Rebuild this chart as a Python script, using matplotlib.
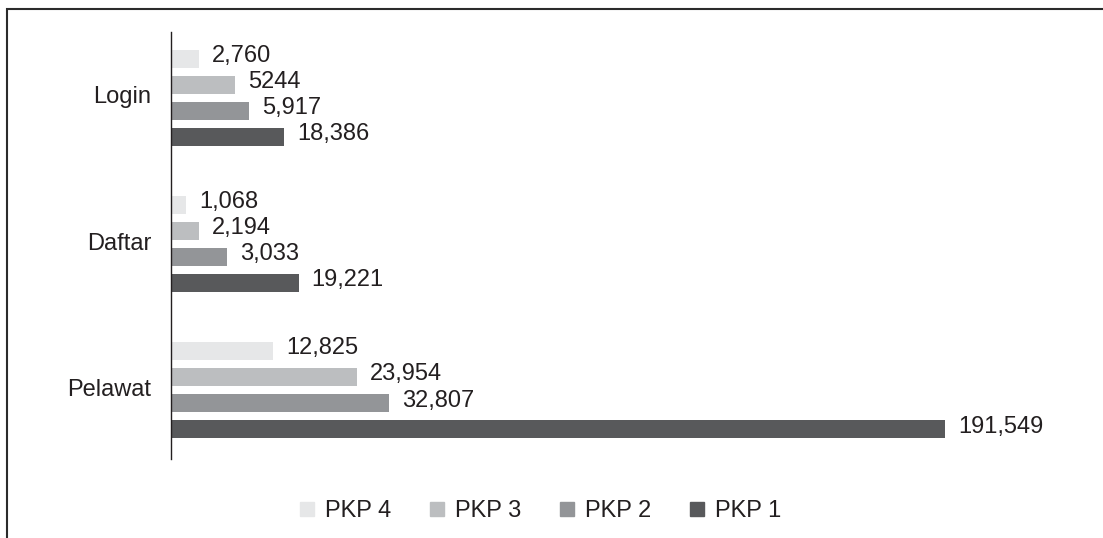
import numpy as np
import matplotlib
matplotlib.use("Agg")
import matplotlib.pyplot as plt
import matplotlib.transforms as mtransforms
from matplotlib.lines import Line2D
from matplotlib.patches import Rectangle

plt.rcParams['font.family'] = ['Liberation Sans', 'DejaVu Sans']

categories = ['Login', 'Daftar', 'Pelawat']
series = ['PKP 4', 'PKP 3', 'PKP 2', 'PKP 1']
colors = ['#e6e7e8', '#bcbec0', '#939598', '#58595b']

# numbers printed on the chart
labels = {
    'PKP 4': ['2,760', '1,068', '12,825'],
    'PKP 3': ['5244', '2,194', '23,954'],
    'PKP 2': ['5,917', '3,033', '32,807'],
    'PKP 1': ['18,386', '19,221', '191,549'],
}
# bar lengths as drawn in the original (not proportional to the printed numbers)
lengths = {
    'PKP 4': [6860, 3710, 25170],
    'PKP 3': [15840, 6930, 45960],
    'PKP 2': [19380, 13860, 54030],
    'PKP 1': [27970, 31600, 191549],
}

fs = 17
fig = plt.figure(figsize=(11.03, 5.38), dpi=100)
ax = fig.add_axes([171 / 1103, 1 - 459 / 538, (1060 - 171) / 1103, (459 - 32) / 538])

y = np.arange(len(categories))
pitch = 0.178
height = 0.121
for i, s in enumerate(series):
    pos = y + (i - 1.5) * pitch
    bars = ax.barh(pos, lengths[s], height=height, color=colors[i], label=s)
    for b, txt in zip(bars, labels[s]):
        ax.annotate(txt, (b.get_width(), b.get_y() + b.get_height() / 2),
                    xytext=(9.4, 2), textcoords='offset points',
                    va='center', ha='left', fontsize=fs, color='#231f20')

ax.set_xlim(0, 220000)
ax.set_ylim(2.47, -0.45)
ax.set_yticks(y)
ax.set_yticklabels(categories, fontsize=fs, color='#231f20')
ax.tick_params(axis='y', length=0, pad=14)
shift = mtransforms.ScaledTranslation(0, 3 / 100, fig.dpi_scale_trans)
for t in ax.get_yticklabels():
    t.set_transform(t.get_transform() + shift)
ax.set_xticks([])
for side in ['top', 'right', 'bottom']:
    ax.spines[side].set_visible(False)
ax.spines['left'].set_color('#231f20')
ax.spines['left'].set_linewidth(1.0)

handles = [Line2D([], [], marker='s', linestyle='none', markersize=10,
                  markerfacecolor=c, markeredgecolor=c) for c in colors]
fig.legend(handles, series, loc='center', bbox_to_anchor=(540 / 1103, 1 - 511 / 538),
           ncol=4, frameon=False, fontsize=fs, handlelength=0.7,
           handletextpad=0.45, columnspacing=1.55, labelcolor='#231f20')

# outer frame (only top and left edges visible in the crop)
frame = Rectangle((6.5 / 1103, -0.2), 1.2, 1.2 - 8.5 / 538, transform=fig.transFigure,
                  fill=False, edgecolor='#2b2b2b', linewidth=1.5)
fig.patches.append(frame)

fig.savefig('out.png', dpi=100)
